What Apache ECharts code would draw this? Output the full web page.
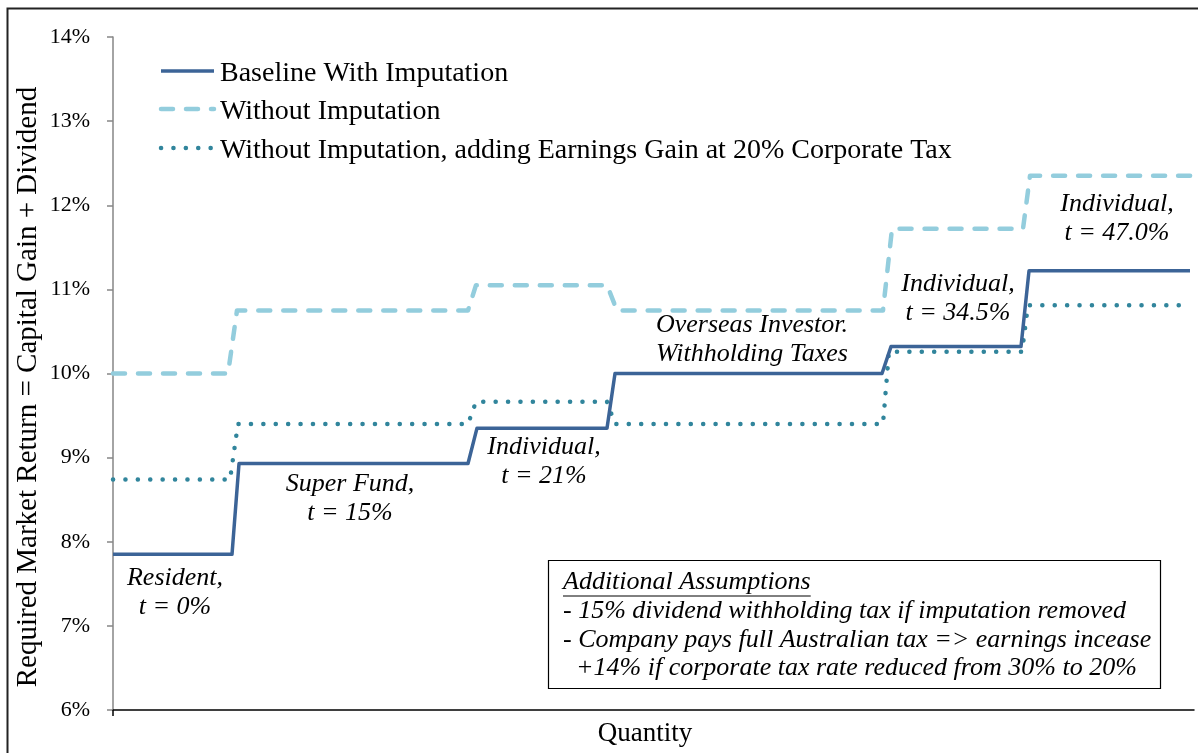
<!DOCTYPE html>
<html>
<head>
<meta charset="utf-8">
<script src="https://cdn.jsdelivr.net/npm/echarts@6/dist/echarts.min.js"></script>
<style>
html,body{margin:0;padding:0;background:#fff;}
#c{width:1198px;height:753px;}
</style>
</head>
<body>
<div id="c"></div>
<script>
// ---- data ----
const seriesNames = ['Baseline With Imputation', 'Without Imputation', 'Without Imputation, adding Earnings Gain at 20% Corporate Tax'];
const baselineX = [0, 119, 126, 355, 364, 494, 502, 769, 778, 908, 916, 1077];
const baselineY = [7.85, 7.85, 8.93, 8.93, 9.35, 9.35, 10.0, 10.0, 10.32, 10.32, 11.22, 11.22];
const noImpX = [0, 115, 124, 355, 363, 494, 504, 770, 779, 910, 917, 1081];
const noImpY = [10.0, 10.0, 10.75, 10.75, 11.05, 11.05, 10.75, 10.75, 11.72, 11.72, 12.35, 12.35];
const earnX = [0, 117, 125, 355, 363, 494, 502, 770, 776, 909, 915, 1078];
const earnY = [8.74, 8.74, 9.40, 9.40, 9.665, 9.665, 9.40, 9.40, 10.26, 10.26, 10.81, 10.81];
const annoX = [62, 237, 431, 639, 845, 1004];
const annoY = [7.40, 8.51, 8.95, 10.40, 10.89, 11.84];
const annoText = ['Resident,\nt = 0%', 'Super Fund,\nt = 15%', 'Individual,\nt = 21%', 'Overseas Investor.\nWithholding Taxes', 'Individual,\nt = 34.5%', 'Individual,\nt = 47.0%'];
const yTicks = {min: 6, max: 14, step: 1};
const xMax = 1081;
const boxTitle = 'Additional Assumptions';
const boxLines = ['- 15% dividend withholding tax if imputation removed', '- Company pays full Australian tax => earnings incease', '  +14% if corporate tax rate reduced from 30% to 20%'];
const yTitle = 'Required Market Return = Capital Gain + Dividend';
const xTitle = 'Quantity';

// ---- build ----
const FONT = "'Liberation Serif', 'Times New Roman', serif";
const zip = (xs, ys) => xs.map((x, i) => [x, ys[i]]);
const colors = ['#3C6497', '#93CDDD', '#31859C'];
const lineStyles = [
  {color: colors[0], width: 3.5, join: 'round', cap: 'butt'},
  {color: colors[1], width: 4.5, type: [12, 13], cap: 'round', join: 'round'},
  {color: colors[2], width: 4.5, type: [0.1, 12.3], cap: 'round', join: 'round'}
];

function measure(text, font) {
  const c = document.createElement('canvas').getContext('2d');
  c.font = font;
  return c.measureText(text).width;
}
const boxFontSize = 26;
const boxFont = 'italic ' + boxFontSize + 'px ' + FONT;
const underlineW = measure(boxTitle, boxFont);

// custom legend (line swatches + text)
const legendRowsY = [71, 109, 148];
const legendGraphics = [];
seriesNames.forEach((n, i) => {
  const ls = lineStyles[i];
  legendGraphics.push({
    type: 'line', shape: {x1: 161, y1: legendRowsY[i], x2: 214, y2: legendRowsY[i]},
    style: {stroke: ls.color, lineWidth: ls.width, lineDash: ls.type || null, lineCap: ls.cap}, z: 60, silent: true
  });
  legendGraphics.push({
    type: 'text', x: 220, y: legendRowsY[i] + 3,
    style: {text: n, font: '28px ' + FONT, fill: '#000', verticalAlign: 'middle'}, z: 60, silent: true
  });
});

const chart = echarts.init(document.getElementById('c'), null, {renderer: 'canvas'});
const option = {
  backgroundColor: '#fff',
  animation: false,
  grid: {left: 113, right: 4, top: 37, bottom: 43, containLabel: false},
  xAxis: {
    type: 'value', min: 0, max: xMax,
    name: xTitle, nameLocation: 'middle', nameGap: 10,
    nameTextStyle: {fontFamily: FONT, fontSize: 27, color: '#000', padding: [0, 17, 0, 0]},
    axisLine: {show: true, lineStyle: {color: '#000', width: 1.5}},
    axisTick: {show: true, customValues: [0], length: 6, lineStyle: {color: '#000', width: 1.5}},
    axisLabel: {show: false},
    splitLine: {show: false}
  },
  yAxis: {
    type: 'value', min: yTicks.min, max: yTicks.max, interval: yTicks.step,
    axisLine: {show: true, lineStyle: {color: '#868686', width: 1.5}},
    axisTick: {show: true, inside: false, length: 6, lineStyle: {color: '#868686', width: 1.5}},
    axisLabel: {formatter: '{value}%', fontFamily: FONT, fontSize: 22, color: '#000', margin: 23},
    splitLine: {show: false}
  },
  series: [
    {name: seriesNames[0], type: 'line', data: zip(baselineX, baselineY), symbol: 'none', z: 4, lineStyle: lineStyles[0], itemStyle: {color: colors[0]}},
    {name: seriesNames[1], type: 'line', data: zip(noImpX, noImpY), symbol: 'none', z: 3, lineStyle: lineStyles[1], itemStyle: {color: colors[1]}},
    {name: seriesNames[2], type: 'line', data: zip(earnX, earnY), symbol: 'none', z: 3, lineStyle: lineStyles[2], itemStyle: {color: colors[2]}},
    {
      name: 'annotations', type: 'scatter', symbolSize: 0, silent: true, z: 5,
      itemStyle: {opacity: 1, color: '#000'},
      data: annoX.map((x, i) => [x, annoY[i], annoText[i]]),
      label: {
        show: true, position: 'inside', formatter: p => p.data[2],
        fontFamily: FONT, fontStyle: 'italic', fontSize: 26, lineHeight: 29, color: '#000',
        textBorderWidth: 0, align: 'center', opacity: 1
      }
    }
  ],
  graphic: [
    {type: 'rect', shape: {x: 7.5, y: 8.5, width: 1300, height: 900}, style: {fill: null, stroke: '#222', lineWidth: 2}, silent: true, z: 100},
    {type: 'text', x: 28, y: 387, rotation: Math.PI / 2,
      style: {text: yTitle, font: '29px ' + FONT, fill: '#000', align: 'center', verticalAlign: 'middle'}, z: 60, silent: true},
    {type: 'rect', shape: {x: 548.5, y: 560.5, width: 612, height: 128}, style: {fill: '#fff', stroke: '#000', lineWidth: 1.2}, z: 50},
    {type: 'text', x: 563, y: 582, style: {text: boxTitle, font: boxFont, fill: '#000', verticalAlign: 'middle'}, z: 51},
    {type: 'line', shape: {x1: 563, y1: 596, x2: 563 + underlineW, y2: 596}, style: {stroke: '#000', lineWidth: 1}, z: 51},
    {type: 'text', x: 563, y: 611, style: {text: boxLines[0], font: boxFont, fill: '#000', verticalAlign: 'middle'}, z: 51},
    {type: 'text', x: 563, y: 640, style: {text: boxLines[1], font: boxFont, fill: '#000', verticalAlign: 'middle'}, z: 51},
    {type: 'text', x: 563, y: 668, style: {text: boxLines[2], font: boxFont, fill: '#000', verticalAlign: 'middle'}, z: 51}
  ].concat(legendGraphics)
};
chart.setOption(option);
</script>
</body>
</html>
